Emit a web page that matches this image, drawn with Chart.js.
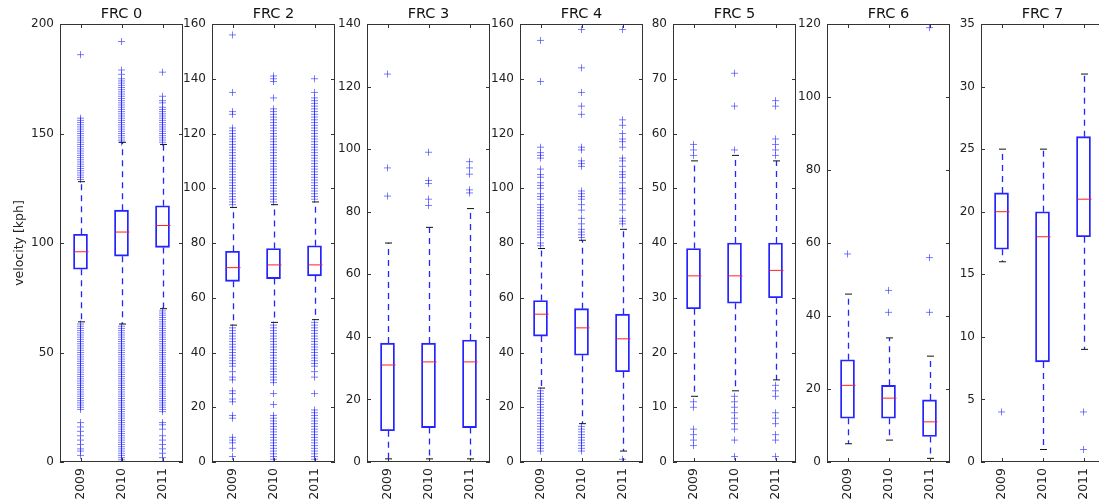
<!DOCTYPE html>
<html>
<head>
<meta charset="utf-8">
<script src="https://cdn.jsdelivr.net/npm/chart.js@4.4.1/dist/chart.umd.min.js"></script>
<style>
  body { margin: 0; overflow: hidden; background: #fff; }
  #wrap { position: relative; width: 1099px; height: 502px; overflow: hidden; }
  #wrap canvas { position: absolute; top: 0; }
</style>
</head>
<body>
<div id="wrap"></div>
<script>
// categories + panels
const years = ['2009', '2010', '2011'];
const frcTitles = ['FRC 0', 'FRC 2', 'FRC 3', 'FRC 4', 'FRC 5', 'FRC 6', 'FRC 7'];
const yMax = [200, 160, 140, 160, 80, 120, 35];
const yStep = [50, 20, 20, 20, 10, 20, 5];

// box stats per panel, one value per year
const q1 = [[88, 94, 98], [66, 67, 68], [10, 11, 11], [46, 39, 33], [28, 29, 30], [12, 12, 7], [17, 8, 18]];
const medians = [[96, 105, 108], [71, 72, 72], [31, 32, 32], [54, 49, 45], [34, 34, 35], [21, 17.5, 11], [20, 18, 21]];
const q3 = [[104, 115, 117], [77, 78, 79], [38, 38, 39], [59, 56, 54], [39, 40, 40], [28, 21, 17], [21.5, 20, 26]];
const whiskLo = [[64, 63, 70], [50, 51, 52], [1, 1, 1], [27, 14, 4], [12, 13, 15], [5, 6, 1], [16, 1, 9]];
const whiskHi = [[128, 146, 145], [93, 94, 95], [70, 75, 81], [78, 81, 85], [55, 56, 55], [46, 34, 29], [25, 25, 31]];

// outliers (fliers), per year
const fliers0 = [
  [186, 157, 156, 155, 154, 153, 152, 151, 150, 149, 148, 147, 146, 145, 144, 143, 142, 141, 140, 139, 138, 137, 136, 135, 134, 133, 132, 131, 130, 129,
   63, 62, 61, 60, 59, 58, 57, 56, 55, 54, 53, 52, 51, 50, 49, 48, 47, 46, 45, 44, 43, 42, 41, 40, 39, 38, 37, 36, 35, 34, 33, 32, 31, 30, 29, 28, 27, 26, 25, 24,
   18, 16, 14, 12, 10, 8, 6, 5, 3],
  [192, 179, 177, 175, 174, 173, 172, 171, 170, 169, 168, 167, 166, 165, 164, 163, 162, 161, 160, 159, 158, 157, 156, 155, 154, 153, 152, 151, 150, 149, 148, 147, 146,
   62, 61, 60, 59, 58, 57, 56, 55, 54, 53, 52, 51, 50, 49, 48, 47, 46, 45, 44, 43, 42, 41, 40, 39, 38, 37, 36, 35, 34, 33, 32, 31, 30, 29, 28, 27, 26, 25, 24, 23, 22, 21,
   20, 19, 18, 17, 16, 15, 14, 13, 12, 11, 10, 9, 8, 7, 6, 5, 4, 3, 2, 1, 0],
  [178, 167, 165, 164, 162, 161, 160, 159, 158, 157, 156, 155, 154, 153, 152, 151, 150, 149, 148, 147, 146,
   69, 68, 67, 66, 65, 64, 63, 62, 61, 60, 59, 58, 57, 56, 55, 54, 53, 52, 51, 50, 49, 48, 47, 46, 45, 44, 43, 42, 41, 40, 39, 38, 37, 36, 35, 34, 33, 32, 31, 30,
   29, 28, 27, 26, 25, 24, 23, 18, 17, 15, 12, 10, 8, 6, 4, 2]
];
const fliers2 = [
  [156, 135, 128, 127, 122, 121, 120, 119, 118, 117, 116, 115, 114, 113, 112, 111, 110, 109, 108, 107, 106, 105, 104, 103, 102, 101, 100, 99, 98, 97, 96, 95, 94,
   49, 48, 47, 46, 45, 44, 43, 42, 41, 40, 39, 38, 37, 36, 35, 33, 31, 30, 26, 25, 23, 22, 17, 16, 9, 8, 7, 5, 2],
  [141, 140, 139, 133, 129, 128, 127, 126, 125, 124, 123, 122, 121, 120, 119, 118, 117, 116, 115, 114, 113, 112, 111, 110, 109, 108, 107, 106, 105, 104, 103, 102, 101,
   100, 99, 98, 97, 96, 95,
   50, 49, 48, 47, 46, 45, 44, 43, 42, 41, 40, 39, 38, 37, 36, 35, 34, 33, 32, 31, 30, 29, 25, 21, 17, 16, 15, 14, 13, 12, 11, 10, 9, 8, 7, 6, 5, 4, 3, 2, 1],
  [140, 135, 133, 132, 131, 130, 129, 128, 127, 126, 125, 124, 123, 122, 121, 120, 119, 118, 117, 116, 115, 114, 113, 112, 111, 110, 109, 108, 107, 106, 105, 104, 103,
   102, 101, 100, 99, 98, 97, 96,
   51, 50, 49, 48, 47, 46, 45, 44, 43, 42, 41, 40, 39, 38, 37, 36, 35, 33, 31, 25, 19, 18, 17, 16, 15, 14, 13, 12, 11, 10, 9, 8, 7, 6, 5, 4, 3, 2, 1]
];
const fliers3 = [[124, 94, 85], [99, 90, 89, 84, 82], [96, 94, 92, 87, 86]];
const fliers4 = [
  [154, 139, 115, 113, 112, 111, 107, 105, 104, 102, 101, 100, 98, 97, 96, 94, 93, 92, 91, 90, 89, 88, 87, 86, 85, 84, 83, 82, 80, 79,
   26, 25, 24, 23, 22, 21, 20, 19, 18, 17, 16, 15, 14, 13, 12, 11, 10, 9, 8, 7, 6, 5, 4],
  [158, 144, 135, 130, 127, 115, 114, 110, 109, 108, 99, 98, 97, 96, 94, 92, 89, 87, 85, 84, 83, 82, 13, 12, 11, 10, 9, 8, 7, 6, 5, 4],
  [158, 125, 123, 120, 118, 117, 115, 111, 110, 108, 106, 105, 104, 102, 100, 99, 98, 96, 94, 92, 89, 88, 87, 1]
];
const fliers5 = [[58, 57, 56, 11, 10, 6, 5, 4, 3], [71, 65, 57, 12, 11, 10, 9, 8, 7, 6, 4, 1], [66, 65, 59, 58, 57, 56, 14, 13, 12, 9, 8, 7, 5, 4, 1]];
const fliers6 = [[57], [47, 41], [119, 56, 41]];
const fliers7 = [[4], [], [4, 1]];
const fliers = [fliers0, fliers2, fliers3, fliers4, fliers5, fliers6, fliers7];

// layout
const panelLeft = [60, 212, 367, 520, 673, 827, 981];
const AXIS_W = 50, PLOT_W = 127;

Chart.defaults.font.family = 'DejaVu Sans';
Chart.defaults.color = '#222';

function seg(ctx, x1, y1, x2, y2) {
  ctx.beginPath();
  ctx.moveTo(x1, y1);
  ctx.lineTo(x2, y2);
  ctx.stroke();
}

// whiskers, caps, medians, frame + inward ticks
const boxParts = {
  id: 'boxParts',
  afterDatasetsDraw(chart, args, opts) {
    const { ctx, scales: { x, y } } = chart;
    const p = opts.panel;
    ctx.save();
    years.forEach((yr, i) => {
      const cx = Math.round(x.getPixelForValue(i)) + 0.5;
      ctx.strokeStyle = '#2424ff';
      ctx.lineWidth = 1.3;
      ctx.setLineDash([6, 5]);
      seg(ctx, cx, y.getPixelForValue(q3[p][i]), cx, y.getPixelForValue(whiskHi[p][i]));
      seg(ctx, cx, y.getPixelForValue(q1[p][i]), cx, y.getPixelForValue(whiskLo[p][i]));
      ctx.setLineDash([]);
      ctx.strokeStyle = '#111';
      ctx.lineWidth = 1;
      [whiskHi[p][i], whiskLo[p][i]].forEach(v => {
        const py = y.getPixelForValue(v);
        seg(ctx, cx - 3.5, py, cx + 3.5, py);
      });
      ctx.strokeStyle = '#ff2020';
      const pm = y.getPixelForValue(medians[p][i]);
      seg(ctx, cx - 7, pm, cx + 7, pm);
    });
    ctx.restore();
  },
  afterDraw(chart, args, opts) {
    const { ctx, chartArea: a, scales: { x, y } } = chart;
    ctx.save();
    ctx.strokeStyle = '#333';
    ctx.lineWidth = 1;
    ctx.strokeRect(a.left + 0.5, a.top + 0.5, a.right - a.left - 1, a.bottom - a.top - 1);
    y.ticks.forEach(t => {
      const py = Math.round(y.getPixelForValue(t.value)) + 0.5;
      seg(ctx, a.left, py, a.left + 4, py);
      seg(ctx, a.right - 4, py, a.right, py);
    });
    years.forEach((yr, i) => {
      const px = Math.round(x.getPixelForValue(i)) + 0.5;
      seg(ctx, px, a.bottom, px, a.bottom - 4);
      seg(ctx, px, a.top, px, a.top + 4);
    });
    if (opts.panel === 0) {
      ctx.fillStyle = '#222';
      ctx.font = '12.5px "DejaVu Sans"';
      ctx.textAlign = 'center';
      ctx.textBaseline = 'middle';
      ctx.translate(a.left - 40, (a.top + a.bottom) / 2);
      ctx.rotate(-Math.PI / 2);
      ctx.fillText('velocity [kph]', 0, 0);
    }
    ctx.restore();
  }
};

const wrap = document.getElementById('wrap');

frcTitles.forEach((title, p) => {
  const canvas = document.createElement('canvas');
  canvas.width = AXIS_W + PLOT_W + 1;
  canvas.height = 502;
  canvas.style.left = (panelLeft[p] - AXIS_W) + 'px';
  wrap.appendChild(canvas);

  const outlierPoints = fliers[p].flatMap((vals, i) => vals.map(v => ({ x: years[i], y: v })));

  new Chart(canvas, {
    type: 'bar',
    data: {
      labels: years,
      datasets: [
        {
          label: 'box',
          data: years.map((yr, i) => [q1[p][i], q3[p][i]]),
          backgroundColor: 'rgba(255,255,255,0)',
          borderColor: '#2424ff',
          borderWidth: 1.2,
          borderSkipped: false,
          barThickness: 14
        },
        {
          type: 'scatter',
          label: 'outliers',
          data: outlierPoints,
          pointStyle: 'cross',
          radius: 3.5,
          borderWidth: 1,
          borderColor: 'rgba(40,40,255,0.6)',
          backgroundColor: 'rgba(40,40,255,0.6)'
        }
      ]
    },
    options: {
      responsive: false,
      animation: false,
      events: [],
      layout: { padding: { left: 0, right: 1, top: 0, bottom: 0 } },
      plugins: {
        legend: { display: false },
        tooltip: { enabled: false },
        title: {
          display: true,
          text: title,
          fullSize: false,
          font: { size: 14.5, weight: 'normal', lineHeight: 1 },
          color: '#111',
          padding: { top: 7, bottom: 2.5 }
        },
        boxParts: { panel: p }
      },
      scales: {
        x: {
          type: 'category',
          offset: true,
          grid: { display: false, drawTicks: false, tickLength: 0 },
          border: { display: false },
          ticks: { minRotation: 90, maxRotation: 90, padding: 6, font: { size: 12.5 }, color: '#222' },
          afterFit: s => { s.height = 40; }
        },
        y: {
          min: 0,
          max: yMax[p],
          grid: { display: false, drawTicks: false, tickLength: 0 },
          border: { display: false },
          ticks: { stepSize: yStep[p], padding: 6, font: { size: 12 }, color: '#222' },
          afterFit: s => { s.width = AXIS_W; }
        }
      }
    },
    plugins: [boxParts]
  });
});
</script>
</body>
</html>
